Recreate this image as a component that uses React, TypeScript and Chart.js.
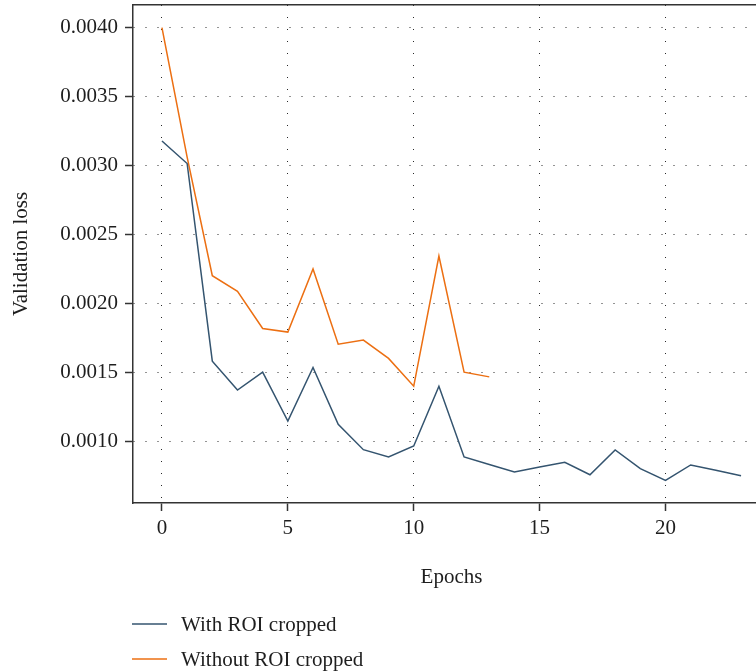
import { useEffect, useRef } from "react";
import { Chart, registerables } from "chart.js";

Chart.register(...registerables);

const epochs = [0, 1, 2, 3, 4, 5, 6, 7, 8, 9, 10, 11, 12, 13, 14, 15, 16, 17, 18, 19, 20, 21, 22, 23];
const withRoiCropped = [
  0.003177, 0.003014, 0.00158, 0.00137, 0.0015, 0.001146, 0.001534, 0.001122, 0.000938, 0.000885,
  0.000965, 0.001398, 0.000885, 0.00083, 0.000776, 0.000812, 0.000846, 0.000756, 0.000936, 0.0008,
  0.000715, 0.000827, 0.000788, 0.000749,
];
const withoutRoiCropped = [
  0.004, 0.00306, 0.0022, 0.002086, 0.001817, 0.001791, 0.002249, 0.001703, 0.001733, 0.0016,
  0.001398, 0.002343, 0.0015, 0.001466,
];
const seriesLabels = ["With ROI cropped", "Without ROI cropped"];
const xTickValues = [0, 5, 10, 15, 20];
const yTickValues = [0.001, 0.0015, 0.002, 0.0025, 0.003, 0.0035, 0.004];
const xTitle = "Epochs";
const yTitle = "Validation loss";

const FONT = '"Liberation Serif", "Times New Roman", serif';
const AXIS = "#333333";
const FS = 21;

const legendPlugin = {
  id: "stackedLegend",
  afterDraw(chart: any) {
    const ctx = chart.ctx;
    chart.data.datasets.forEach((ds: any, i: number) => {
      const y = 624 + i * 35;
      ctx.save();
      ctx.strokeStyle = ds.borderColor;
      ctx.lineWidth = 1.5;
      ctx.beginPath();
      ctx.moveTo(132, y);
      ctx.lineTo(167, y);
      ctx.stroke();
      ctx.fillStyle = "#1e1e1e";
      ctx.font = `${FS}px ${FONT}`;
      ctx.textBaseline = "middle";
      ctx.textAlign = "left";
      ctx.fillText(ds.label, 181, y + 1);
      ctx.restore();
    });
  },
};

export default function App() {
  const ref = useRef<HTMLCanvasElement | null>(null);

  useEffect(() => {
    if (!ref.current) return;
    Chart.defaults.font.family = FONT;
    Chart.defaults.color = "#1e1e1e";
    const chart = new Chart(ref.current, {
      type: "line",
      data: {
        datasets: [
          {
            label: seriesLabels[0],
            data: withRoiCropped.map((v, i) => ({ x: epochs[i], y: v })),
            borderColor: "#34546f",
            borderWidth: 1.5,
            pointRadius: 0,
            tension: 0,
            fill: false,
          },
          {
            label: seriesLabels[1],
            data: withoutRoiCropped.map((v, i) => ({ x: epochs[i], y: v })),
            borderColor: "#ec6f12",
            borderWidth: 1.5,
            pointRadius: 0,
            tension: 0,
            fill: false,
          },
        ],
      },
      options: {
        animation: false,
        responsive: false,
        layout: { padding: { top: 5, right: 0, bottom: 80, left: 0 } },
        plugins: { legend: { display: false }, tooltip: { enabled: false } },
        scales: {
          x: {
            type: "linear",
            position: "bottom",
            min: -1.15,
            max: 24.15,
            afterBuildTicks: (s: any) => {
              s.ticks = xTickValues.map((v) => ({ value: v }));
            },
            afterFit: (s: any) => {
              s.height = 88;
              s.paddingLeft = 0;
              s.paddingRight = 0;
            },
            ticks: { font: { size: FS }, padding: 5, color: "#1e1e1e" },
            grid: {
              color: "rgba(30,30,30,0.95)",
              lineWidth: 1,
              tickLength: 8,
              tickColor: AXIS,
              tickWidth: 1.5,
            },
            border: { display: true, color: AXIS, width: 1.5, dash: [1, 11] },
            title: { display: true, text: xTitle, font: { size: FS }, padding: { top: 0, bottom: 1 } },
          },
          x2: {
            type: "linear",
            position: "top",
            min: -1.15,
            max: 24.15,
            afterFit: (s: any) => {
              s.height = 0;
              s.paddingLeft = 0;
              s.paddingRight = 0;
            },
            ticks: { display: false },
            grid: { display: false, drawOnChartArea: false, drawTicks: false },
            border: { display: true, color: AXIS, width: 1.5 },
          },
          y: {
            type: "linear",
            min: 0.000551,
            max: 0.004164,
            afterBuildTicks: (s: any) => {
              s.ticks = yTickValues.map((v) => ({ value: v }));
            },
            afterFit: (s: any) => {
              s.width = 133;
              s.paddingTop = 0;
              s.paddingBottom = 0;
            },
            ticks: {
              font: { size: FS },
              padding: 7,
              color: "#1e1e1e",
              callback: (v: any) => Number(v).toFixed(4),
            },
            grid: {
              color: "rgba(30,30,30,0.95)",
              lineWidth: 1,
              tickLength: 8,
              tickColor: AXIS,
              tickWidth: 1.5,
            },
            border: { display: true, color: AXIS, width: 1.5, dash: [1, 11] },
            title: { display: true, text: yTitle, font: { size: FS }, padding: { top: 9, bottom: 0 } },
          },
        },
      },
      plugins: [legendPlugin],
    });
    return () => chart.destroy();
  }, []);

  return (
    <div
      style={{
        position: "fixed",
        left: 0,
        top: 0,
        width: 756,
        height: 671,
        overflow: "hidden",
        background: "#ffffff",
      }}
    >
      <canvas ref={ref} width={770} height={671} style={{ display: "block" }} />
    </div>
  );
}
